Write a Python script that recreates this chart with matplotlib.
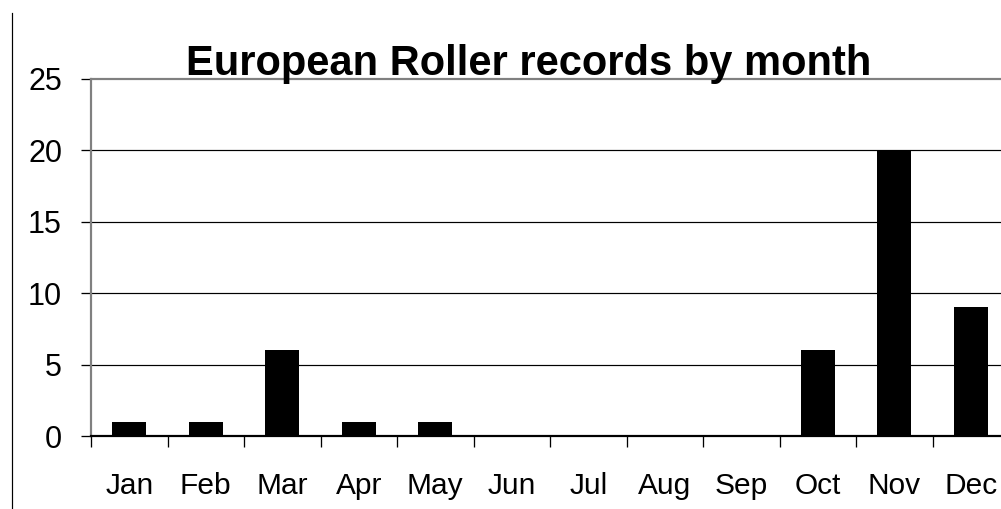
import matplotlib
matplotlib.use("Agg")
import matplotlib.pyplot as plt
from matplotlib.lines import Line2D
import numpy as np

months = ["Jan", "Feb", "Mar", "Apr", "May", "Jun", "Jul", "Aug", "Sep", "Oct", "Nov", "Dec"]
records = [1, 1, 6, 1, 1, 0, 0, 0, 0, 6, 20, 9]
yticks = [0, 5, 10, 15, 20, 25]
title = "European Roller records by month"

plt.rcParams['font.family'] = ['Liberation Sans', 'DejaVu Sans']

W, H = 1001, 509
PX = 0.72  # points per pixel at dpi 100
fig = plt.figure(figsize=(W / 100, H / 100), dpi=100)
left, right, top, bottom = 91, 1009, 79, 436
ax = fig.add_axes([left / W, (H - bottom) / H, (right - left) / W, (bottom - top) / H])

x = np.arange(len(months))
ax.bar(x, records, width=0.44, color="black", zorder=3)

ax.set_xlim(-0.5, len(months) - 0.5)
ax.set_ylim(0, 25)
ax.set_yticks(yticks)
ax.set_yticklabels([str(t) for t in yticks], fontsize=22)
for t in yticks[1:-1]:
    ax.axhline(t, color="black", lw=1.2 * PX, zorder=1)

ax.set_xticks(x)
ax.set_xticklabels(months, fontsize=21.5)
ax.set_xticks(np.arange(len(months) + 1) - 0.5, minor=True)
ax.tick_params(axis="x", which="major", length=0, pad=26)
ax.tick_params(axis="x", which="minor", length=11 * PX, width=1.3 * PX, direction="out", color="black")
ax.tick_params(axis="y", length=10 * PX, width=1.3 * PX, direction="out", color="black", pad=19 * PX)

for s in ["left", "top"]:
    ax.spines[s].set_color("#808080")
    ax.spines[s].set_linewidth(2.2 * PX)
ax.spines["right"].set_visible(False)
ax.spines["bottom"].set_color("black")
ax.spines["bottom"].set_linewidth(2.2 * PX)
ax.spines["bottom"].set_zorder(4)

fig.text(529 / W, 1 - 75 / H, title, ha="center", va="baseline",
         fontsize=30, fontweight="bold")

fig.add_artist(Line2D([12 / W, 12 / W], [0, 1 - 13 / H], color="black", lw=1.2 * PX,
                      transform=fig.transFigure))

fig.savefig("out.png", dpi=100)
